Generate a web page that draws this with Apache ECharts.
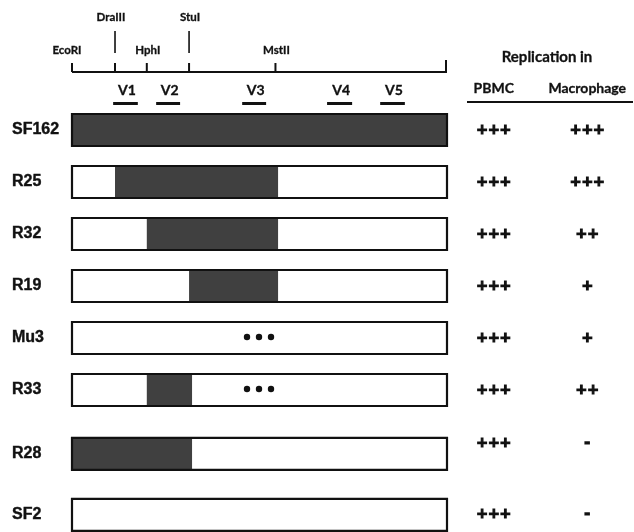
<!DOCTYPE html>
<html><head><meta charset="utf-8">
<script src="https://cdn.jsdelivr.net/npm/echarts@6/dist/echarts.min.js"></script>
<style>html,body{margin:0;padding:0;background:#fff}#c{width:634px;height:532px}</style>
</head><body><div id="c"></div>
<script>
// ---- data ----
const clones = ['SF162','R25','R32','R19','Mu3','R33','R28','SF2'];
const rowPos = [0, 1, 2, 3, 4, 5, 6.23, 7.4];
const segStart = [0, 11.5, 20.0, 31.3, null, 20.0, 0, null];
const segEnd   = [100, 55.1, 55.1, 55.1, null, 32.1, 32.1, null];
const mutation = [null, null, null, null, 50, 50, null, null];
const pbmc = ['+++','+++','+++','+++','+++','+++','+++','+++'];
const macrophage = ['+++','+++','++','+','+','++','-','-'];
const columns = ['PBMC','Macrophage'];
const siteNames = ['EcoRI','DraIII','HphI','StuI','MstII'];
const sitePos = [0, 11.5, 20.0, 31.3, 54.4];
const siteMajor = [false, true, false, true, false];
const vNames = ['V1','V2','V3','V4','V5'];
const vStart = [11.0, 22.5, 45.5, 68.2, 82.4];
const vEnd   = [17.6, 28.9, 51.9, 74.9, 89.0];
const genomeLen = 100;

// ---- styles ----
const HEAD = '"Lato", "DejaVu Sans", sans-serif';
const ROW = '"Liberation Sans", Arial, sans-serif';
const SYM = '"DejaVu Sans", sans-serif';
const FILL = '#404040';
const INK = '#111';

const chart = echarts.init(document.getElementById('c'), null, {renderer: 'canvas'});

const barData = clones.map((c, i) => [rowPos[i], segStart[i], segEnd[i], mutation[i], i]);
const scoreData = [];
clones.forEach((c, i) => {
  scoreData.push([0, rowPos[i], i, pbmc[i]]);
  scoreData.push([1, rowPos[i], i, macrophage[i]]);
});

const option = {
  animation: false,
  backgroundColor: '#fff',
  grid: [
    {left: 72, width: 374, top: 0, height: 110},
    {left: 72, width: 374, top: 104, height: 426.4},
    {left: 447, width: 192, top: 104, height: 426.4}
  ],
  xAxis: [
    {gridIndex: 0, type: 'value', min: 0, max: genomeLen, show: false},
    {gridIndex: 1, type: 'value', min: 0, max: genomeLen, show: false},
    {gridIndex: 2, type: 'category', data: columns, position: 'top',
     axisLine: {show: false}, axisTick: {show: false}, splitLine: {show: false},
     axisLabel: {interval: 0, hideOverlap: false, color: INK, fontFamily: HEAD, fontWeight: 'bold', fontSize: 14, margin: 9,
       textBorderColor: INK, textBorderWidth: 0.3}}
  ],
  yAxis: [
    {gridIndex: 0, type: 'value', min: 0, max: 1, show: false},
    {gridIndex: 1, type: 'value', min: -0.5, max: 7.7, inverse: true, show: false},
    {gridIndex: 2, type: 'value', min: -0.5, max: 7.7, inverse: true, show: false}
  ],
  graphic: [
    {type: 'text', x: 547, y: 57, style: {text: 'Replication in', fill: INK, stroke: INK, lineWidth: 0.3,
      font: 'bold 15px ' + HEAD, align: 'center', verticalAlign: 'middle'}},
    {type: 'line', shape: {x1: 467, y1: 102, x2: 633, y2: 102}, style: {stroke: INK, lineWidth: 2}}
  ],
  series: [
    // genome baseline
    {type: 'custom', xAxisIndex: 0, yAxisIndex: 0, clip: false,
     data: [[0, genomeLen]],
     renderItem(params, api) {
       const x0 = api.coord([api.value(0), 0])[0];
       const x1 = api.coord([api.value(1), 0])[0];
       return {type: 'group', children: [
         {type: 'line', shape: {x1: x0, y1: 72, x2: x1, y2: 72}, style: {stroke: INK, lineWidth: 2}},
         {type: 'line', shape: {x1: x0, y1: 63, x2: x0, y2: 72}, style: {stroke: INK, lineWidth: 2}},
         {type: 'line', shape: {x1: x1, y1: 60, x2: x1, y2: 73}, style: {stroke: INK, lineWidth: 2}}
       ]};
     }},
    // restriction sites
    {type: 'custom', xAxisIndex: 0, yAxisIndex: 0, clip: false,
     data: sitePos.map((p, i) => [p, i]),
     renderItem(params, api) {
       const i = api.value(1);
       const x = api.coord([api.value(0), 0])[0];
       const ch = [];
       if (i > 0) ch.push({type: 'line', shape: {x1: x, y1: 63, x2: x, y2: 72}, style: {stroke: INK, lineWidth: 2}});
       if (siteMajor[i]) {
         ch.push({type: 'line', shape: {x1: x, y1: 31, x2: x, y2: 53}, style: {stroke: INK, lineWidth: 1.6}});
       }
       ch.push({type: 'text', x: x + (i === 0 ? -5 : (i === 1 ? -4 : 1)), y: siteMajor[i] ? 17 : 50,
         style: {text: siteNames[i], fill: INK, stroke: INK, lineWidth: 0.3,
           font: 'bold 11.5px ' + HEAD, align: 'center', verticalAlign: 'middle'}});
       return {type: 'group', children: ch};
     }},
    // variable regions
    {type: 'custom', xAxisIndex: 0, yAxisIndex: 0, clip: false,
     data: vStart.map((s, i) => [s, vEnd[i], i]),
     renderItem(params, api) {
       const i = api.value(2);
       const a = api.coord([api.value(0), 0])[0];
       const b = api.coord([api.value(1), 0])[0];
       return {type: 'group', children: [
         {type: 'rect', shape: {x: a, y: 102, width: b - a, height: 3}, style: {fill: INK}},
         {type: 'text', x: (a + b) / 2 + 1.5, y: 90, style: {text: vNames[i], fill: INK, stroke: INK, lineWidth: 0.3,
           font: 'bold 14px ' + HEAD, align: 'center', verticalAlign: 'middle'}}
       ]};
     }},
    // clone bars
    {type: 'custom', xAxisIndex: 1, yAxisIndex: 1, clip: false,
     data: barData,
     renderItem(params, api) {
       const row = api.value(0);
       const i = api.value(4);
       const h = 32;
       const p0 = api.coord([0, row]);
       const p1 = api.coord([genomeLen, row]);
       const y = p0[1] - h / 2;
       const ch = [
         {type: 'rect', shape: {x: p0[0], y: y, width: p1[0] - p0[0], height: h}, style: {fill: '#fff'}}
       ];
       const s = segStart[i], e = segEnd[i];
       if (s !== null && s !== undefined) {
         const a = api.coord([s, row])[0], b = api.coord([e, row])[0];
         ch.push({type: 'rect', shape: {x: a, y: y, width: b - a, height: h}, style: {fill: FILL}});
       }
       ch.push({type: 'rect', shape: {x: p0[0], y: y, width: p1[0] - p0[0] + 1, height: h},
         style: {fill: 'none', stroke: INK, lineWidth: 2.2}});
       const m = mutation[i];
       if (m !== null && m !== undefined) {
         const cx = api.coord([m, row])[0];
         [-12, 0, 12].forEach(d => ch.push({type: 'circle', shape: {cx: cx + d, cy: p0[1] - 1, r: 3.2}, style: {fill: INK}}));
       }
       ch.push({type: 'text', x: 12, y: p0[1], style: {text: clones[i], fill: INK, stroke: INK, lineWidth: 0.4,
         font: 'bold 16px ' + ROW, align: 'left', verticalAlign: 'middle'}});
       return {type: 'group', children: ch};
     }},
    // replication scores
    {type: 'custom', xAxisIndex: 2, yAxisIndex: 2, clip: false,
     data: scoreData,
     renderItem(params, api) {
       const i = api.value(2);
       const p = api.coord([api.value(0), api.value(1)]);
       const lift = clones[i] === 'R28' ? 11 : 0;
       return {type: 'text', x: p[0], y: p[1] - lift, style: {text: scoreData[params.dataIndex][3], fill: INK,
         stroke: INK, lineWidth: 1.2,
         font: 'bold 14px ' + SYM, align: 'center', verticalAlign: 'middle'}};
     }}
  ]
};
chart.setOption(option);
</script>
</body></html>
